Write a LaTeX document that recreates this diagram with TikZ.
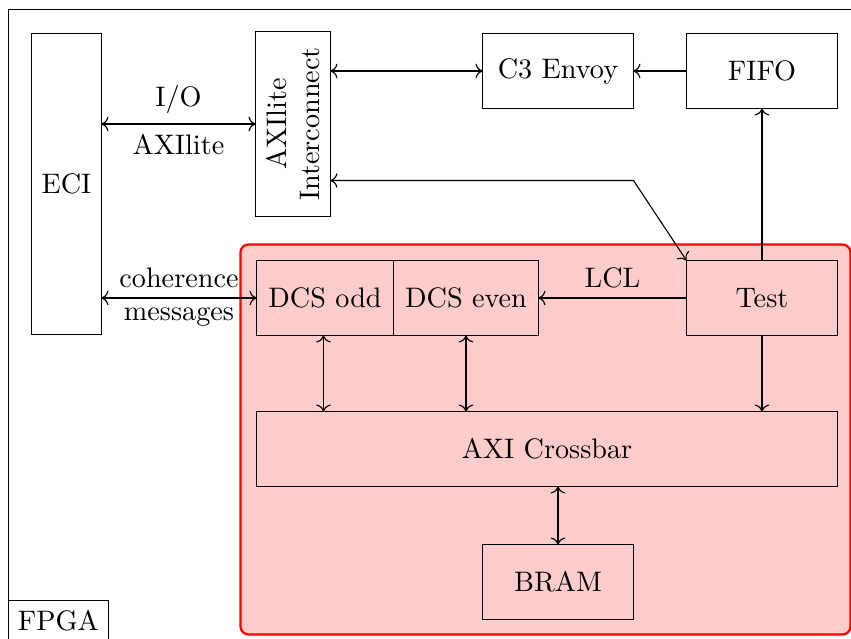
\documentclass[tikz,border=0pt]{standalone}
\usetikzlibrary{arrows.meta,calc}
\def\pu{0.3546pt}
\begin{document}
\begin{tikzpicture}[x=\pu,y=-\pu,
  blk/.style={draw, inner sep=0pt, outer sep=0pt},
  link/.style={<->},
  flow/.style={->}]
\useasboundingbox (0,0) rectangle (851,639);
\clip (0,0) rectangle (851,639);
\begin{scope}[shift={(0.5,0.5)}]

% FPGA frame and its label
\draw (8,9) rectangle (880,640);
\node[draw, anchor=south west, outer sep=0pt] (fpga) at (8,640) {FPGA};

% test region
\draw[red, thick, fill=red!20, rounded corners=8*\pu] (240,244) rectangle (850,634);

% blocks
\node[blk, minimum width=70*\pu,  minimum height=301*\pu] (eci)  at (66,183.5) {ECI};
\node[blk, minimum width=75*\pu,  minimum height=185*\pu] (axi)  at (292.5,123.5) {};
\node[rotate=90, align=center] (axitext) at (axi.center) {AXIlite\\Interconnect};
\node[blk, minimum width=151*\pu, minimum height=75*\pu]  (c3)   at (557.5,70.5) {C3 Envoy};
\node[blk, minimum width=151*\pu, minimum height=75*\pu]  (fifo) at (761.5,70.5) {FIFO};
\node[blk, minimum width=137*\pu, minimum height=75*\pu]  (dcso) at (324.5,297.5) {DCS odd};
\node[blk, minimum width=145*\pu, minimum height=75*\pu]  (dcse) at (465.5,297.5) {DCS even};
\node[blk, minimum width=151*\pu, minimum height=75*\pu]  (test) at (761.5,297.5) {Test};
\node[blk, minimum width=581*\pu, minimum height=75*\pu]  (xbar) at (546.5,448.5) {AXI Crossbar};
\node[blk, minimum width=151*\pu, minimum height=75*\pu]  (bram) at (557.5,581.5) {BRAM};

\coordinate (bend) at (633,180);

% connectors
\draw[link] (eci.east |- axi.center) -- node[above] (io) {I/O} node[below] (axil) {AXIlite} (axi.west);
\draw[link] (eci.east |- dcso.west) -- node[above] (coh) {coherence} node[below] (msg) {messages} (dcso.west);
\draw[link] (axi.east |- c3.west) -- (c3.west);
\draw[flow] (fifo.west) -- (c3.east);
\draw[link] (axi.east |- bend) -- (bend) -- (test.north west);
\draw[flow] (test.north) -- (fifo.south);
\draw[flow] (test.west) -- node[above] (lcl) {LCL} (dcse.east);
\draw[link] ([xshift=-1.5*\pu]dcso.south) -- ([xshift=-1.5*\pu]dcso.south |- xbar.north);
\draw[link] (dcse.south) -- (dcse.south |- xbar.north);
\draw[flow] (test.south) -- (test.south |- xbar.north);
\draw[link] (bram.north) -- (bram.north |- xbar.south);
\end{scope}
\end{tikzpicture}
\end{document}
